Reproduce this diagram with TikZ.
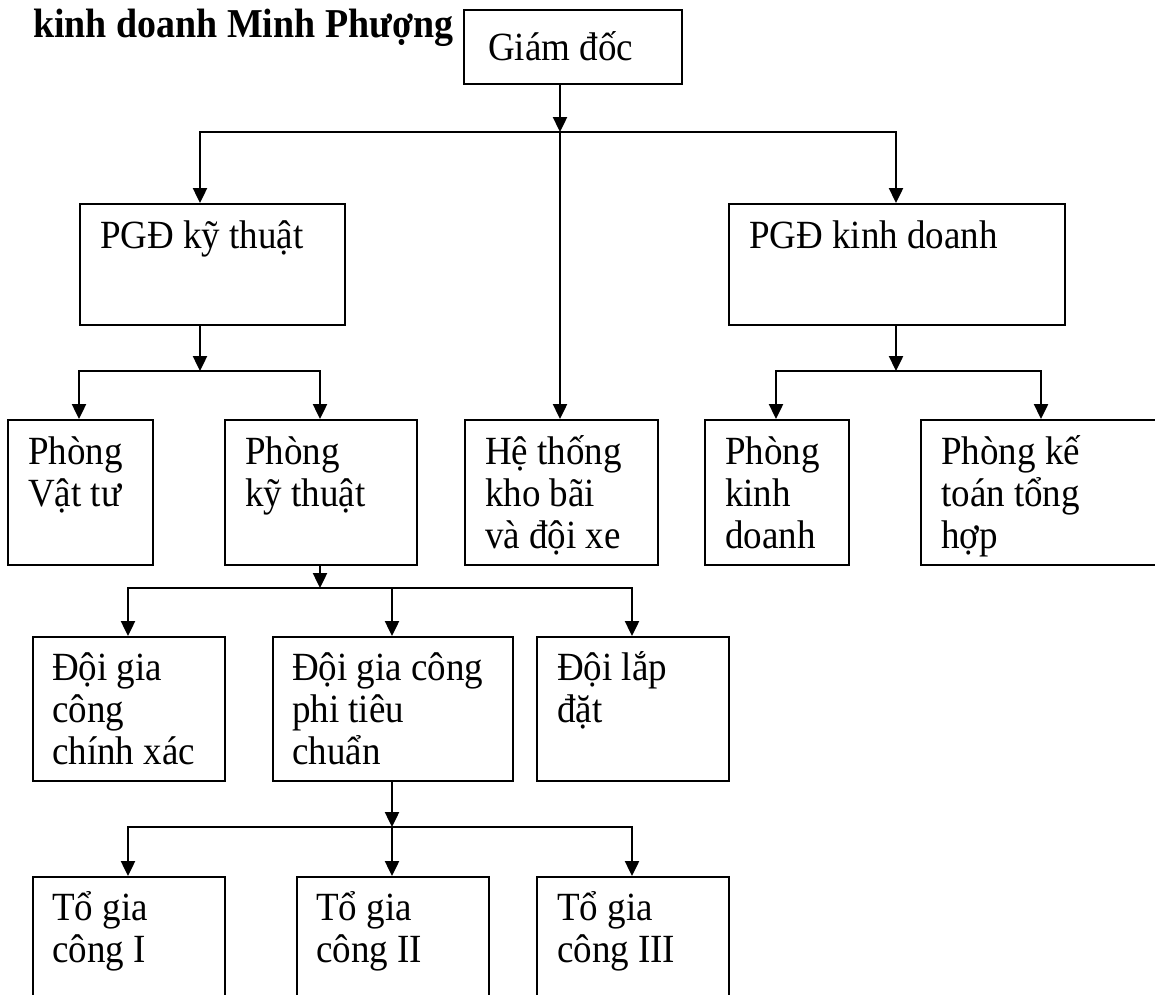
\documentclass[tikz,border=0pt]{standalone}
\usepackage{fontspec}
\setmainfont[FakeStretch=0.925]{Liberation Serif}
\usetikzlibrary{arrows.meta,calc}

\tikzset{
  box/.style={draw, line width=2.4pt, rectangle, inner sep=0pt, anchor=north west},
  boxtext/.style={inner sep=0pt, anchor=base west, font=\fontsize{40}{42}\selectfont},
  titletext/.style={inner sep=0pt, anchor=base west, font=\fontsize{41}{42}\selectfont\bfseries},
  link/.style={line width=2.4pt, line join=miter},
  arr/.style={link, -{Triangle[length=15pt,width=14pt]}},
}

% lines of a box label, first baseline on the anchor
\newcommand{\stack}[1]{\begin{tabular}[t]{@{}l@{}}#1\end{tabular}}

% \orgunit[text offset]{name}{left}{top}{width}{height}{text}
\newcommand{\orgunit}[7][21,45]{%
  \node[box, minimum width=#5pt, minimum height=#6pt] (#2) at (#3,#4) {};
  \node[boxtext] (#2-label) at ($(#2.north west)+(#1)$) {\stack{#7}};
}

\begin{document}
\begin{tikzpicture}[x=1pt, y=-1pt]
  \useasboundingbox (0,0) rectangle (1155,994);
  \clip (0,0) rectangle (1155,994);

  \node[titletext] (title) at (33,37) {kinh doanh Minh Phượng};

  % top level
  \orgunit[25,51]{gd}{463}{9}{218}{74}{Giám đốc}

  % deputy directors
  \orgunit{pgdkt}{79}{203}{265}{121}{PGĐ kỹ thuật}
  \orgunit{pgdkd}{728}{203}{336}{121}{PGĐ kinh doanh}

  % departments
  \orgunit{vattu}{7}{419}{145}{145}{Phòng\\Vật tư}
  \orgunit{pkt}{224}{419}{192}{145}{Phòng\\kỹ thuật}
  \orgunit{kho}{464}{419}{193}{145}{Hệ thống\\kho bãi\\và đội xe}
  \orgunit{pkd}{704}{419}{144}{145}{Phòng\\kinh\\doanh}
  \orgunit{pkt2}{920}{419}{250}{145}{Phòng kế\\toán tổng\\hợp}

  % teams
  \orgunit[20,44]{dcx}{32}{636}{192}{144}{Đội gia\\công\\chính xác}
  \orgunit[20,44]{dptc}{272}{636}{240}{144}{Đội gia công\\phi tiêu\\chuẩn}
  \orgunit[21,44]{dld}{536}{636}{192}{144}{Đội lắp\\đặt}

  % groups
  \orgunit[20,44]{to1}{32}{876}{192}{160}{Tổ gia\\công I}
  \orgunit[20,44]{to2}{296}{876}{192}{160}{Tổ gia\\công II}
  \orgunit[21,44]{to3}{536}{876}{192}{160}{Tổ gia\\công III}

  % junction points
  \coordinate (j1)  at (560,132);
  \coordinate (j1l) at (200,132);
  \coordinate (j1r) at (896,132);
  \coordinate (j2)  at (200,371);
  \coordinate (j2l) at (79,371);
  \coordinate (j2r) at (320,371);
  \coordinate (j3)  at (896,371);
  \coordinate (j3l) at (776,371);
  \coordinate (j3r) at (1041,371);
  \coordinate (j4)  at (320,588);
  \coordinate (j4l) at (128,588);
  \coordinate (j4m) at (392,588);
  \coordinate (j4r) at (632,588);
  \coordinate (j5)  at (392,827);
  \coordinate (j5l) at (128,827);
  \coordinate (j5r) at (632,827);

  % director level
  \draw[arr] (j1 |- gd.south) -- (j1);
  \draw[arr] (j1) -- (j1l) -- (j1l |- pgdkt.north);
  \draw[arr] (j1) -- (j1r) -- (j1r |- pgdkd.north);
  \draw[arr] (j1) -- (j1 |- kho.north);

  % technical deputy
  \draw[arr] (j2 |- pgdkt.south) -- (j2);
  \draw[arr] (j2) -- (j2l) -- (j2l |- vattu.north);
  \draw[arr] (j2) -- (j2r) -- (j2r |- pkt.north);

  % business deputy
  \draw[arr] (j3 |- pgdkd.south) -- (j3);
  \draw[arr] (j3) -- (j3l) -- (j3l |- pkd.north);
  \draw[arr] (j3) -- (j3r) -- (j3r |- pkt2.north);

  % technical department
  \draw[arr] (j4 |- pkt.south) -- (j4);
  \draw[arr] (j4) -- (j4l) -- (j4l |- dcx.north);
  \draw[arr] (j4) -- (j4r) -- (j4r |- dld.north);
  \draw[arr] (j4m) -- (j4m |- dptc.north);

  % non-standard machining team
  \draw[arr] (j5 |- dptc.south) -- (j5);
  \draw[arr] (j5) -- (j5l) -- (j5l |- to1.north);
  \draw[arr] (j5) -- (j5r) -- (j5r |- to3.north);
  \draw[arr] (j5) -- (j5 |- to2.north);
\end{tikzpicture}
\end{document}
